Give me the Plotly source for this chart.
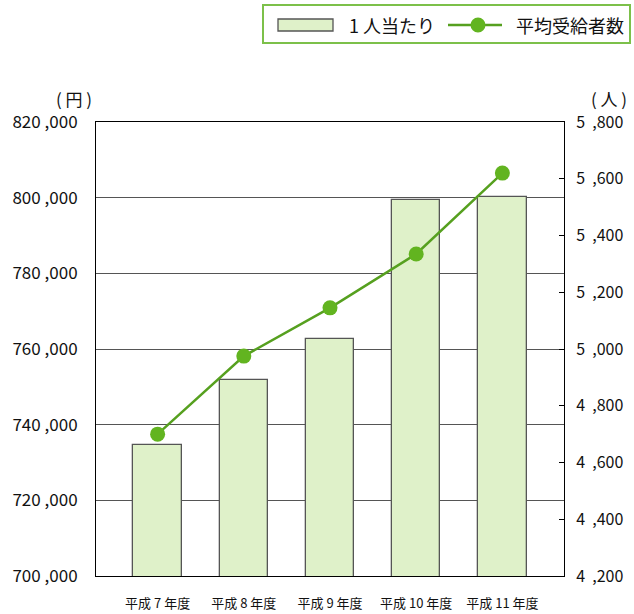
import plotly.graph_objects as go

categories = ["平成 7 年度", "平成 8 年度", "平成 9 年度", "平成 10 年度", "平成 11 年度"]
per_person = [734700, 751900, 762700, 799400, 800100]          # 1人当たり (円)
recipients = [4700, 4975, 5145, 5335, 5620]                      # 平均受給者数 (人)

NB = "\u00a0"
left_ticks = [700000, 720000, 740000, 760000, 780000, 800000, 820000]
left_labels = [f"{v // 1000}{NB},000" for v in left_ticks]
right_ticks = [4200, 4400, 4600, 4800, 5000, 5200, 5400, 5600, 5800]
right_labels = [f"{v // 1000}{NB}{NB},{v % 1000:03d}" for v in right_ticks]

FONT = "Noto Sans CJK JP"
W, H = 634, 614
L, R, T, B = 96, 70, 122, 38
PW, PH = W - L - R, H - T - B

BAR_FILL = "#dff1c9"
BAR_EDGE = "#555555"
LINE_COL = "#56a01f"
MARK_COL = "#62b420"


def px(x):
    return (x - L) / PW


def py(y):
    return (H - B - y) / PH


xpos = list(range(len(categories)))

fig = go.Figure()
fig.add_trace(go.Bar(
    x=xpos, y=per_person, name="1人当たり", width=0.563,
    marker=dict(color=BAR_FILL, line=dict(color=BAR_EDGE, width=1.3)),
    yaxis="y",
))
fig.add_trace(go.Scatter(
    x=xpos, y=recipients, name="平均受給者数", mode="lines+markers",
    line=dict(color=LINE_COL, width=2.5),
    marker=dict(color=MARK_COL, size=15),
    yaxis="y2",
))

# legend drawn as decoration
shapes = [
    dict(type="rect", xref="paper", yref="paper", x0=px(263), x1=px(630), y0=py(43), y1=py(5),
         line=dict(color="#7cc04a", width=2), fillcolor="white", layer="above"),
    dict(type="rect", xref="paper", yref="paper", x0=px(278), x1=px(333), y0=py(31), y1=py(19),
         line=dict(color=BAR_EDGE, width=1.3), fillcolor=BAR_FILL, layer="above"),
    dict(type="line", xref="paper", yref="paper", x0=px(448), x1=px(502), y0=py(25), y1=py(25),
         line=dict(color=LINE_COL, width=2.5), layer="above"),
    dict(type="circle", xref="paper", yref="paper", x0=px(470.5), x1=px(485.5), y0=py(32.5), y1=py(17.5),
         line=dict(color=MARK_COL, width=0), fillcolor=MARK_COL, layer="above"),
]

annotations = [
    dict(text=f"1{NB}人当たり", xref="paper", yref="paper", x=px(347), y=py(25),
         xanchor="left", yanchor="middle", showarrow=False, font=dict(size=18, family=FONT)),
    dict(text="平均受給者数", xref="paper", yref="paper", x=px(514), y=py(25),
         xanchor="left", yanchor="middle", showarrow=False, font=dict(size=18, family=FONT)),
    dict(text=f"({NB}円{NB})", xref="paper", yref="paper", x=px(74), y=py(98),
         xanchor="center", yanchor="middle", showarrow=False, font=dict(size=17, family=FONT)),
    dict(text=f"({NB}人{NB})", xref="paper", yref="paper", x=px(609), y=py(98),
         xanchor="center", yanchor="middle", showarrow=False, font=dict(size=17, family=FONT)),
]

fig.update_layout(
    width=W, height=H,
    margin=dict(l=L, r=R, t=T, b=B, autoexpand=False),
    plot_bgcolor="white", paper_bgcolor="white",
    font=dict(family=FONT, color="#111111"),
    bargap=0,
    showlegend=False,
    xaxis=dict(
        range=[-0.715, 4.715], tickvals=xpos, ticktext=categories,
        showline=True, linecolor="#000000", linewidth=1, mirror=True,
        showgrid=False, ticks="", tickfont=dict(size=13, family=FONT),
        ticklabelstandoff=15, zeroline=False, automargin=False,
    ),
    yaxis=dict(
        range=[700000, 820000], tickvals=left_ticks, ticktext=left_labels,
        showline=True, linecolor="#000000", linewidth=1,
        showgrid=True, gridcolor="#555555", gridwidth=1,
        ticks="outside", ticklen=14, tickcolor="rgba(0,0,0,0)",
        tickfont=dict(size=17, family=FONT), zeroline=False, automargin=False,
    ),
    yaxis2=dict(
        range=[4200, 5800], tickvals=right_ticks, ticktext=right_labels,
        overlaying="y", side="right",
        showline=True, linecolor="#000000", linewidth=1,
        showgrid=False, ticks="inside", ticklen=5, tickcolor="#000000",
        tickfont=dict(size=16, family=FONT), ticklabelstandoff=8, zeroline=False,
        automargin=False,
    ),
    shapes=shapes,
    annotations=annotations,
)

fig.write_html("out.html", config={"displayModeBar": False},
               post_script="document.body.style.margin='0';document.body.style.overflow='hidden';")
